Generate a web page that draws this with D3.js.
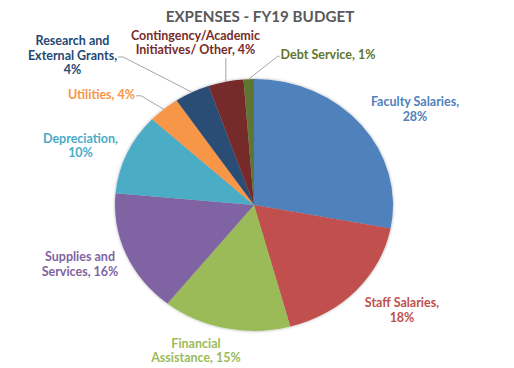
<!DOCTYPE html>
<html>
<head>
<meta charset="utf-8">
<script src="https://cdn.jsdelivr.net/npm/d3@7"></script>
<style>
  html, body { margin: 0; padding: 0; background: #fff; }
  svg { display: block; }
  text { font-family: Lato, "Open Sans", sans-serif; font-weight: bold; }
</style>
</head>
<body>
<div id="chart"></div>
<script>
// ---- data ----
const title = "EXPENSES - FY19 BUDGET";
const categories = ["Faculty Salaries", "Staff Salaries", "Financial Assistance", "Supplies and Services",
  "Depreciation", "Utilities", "Research and External Grants", "Contingency/Academic Initiatives/ Other", "Debt Service"];
const values = [28.0, 17.8, 14.9, 15.8, 10.4, 3.7, 4.1, 4.1, 1.2];
const percentLabels = ["28%", "18%", "15%", "16%", "10%", "4%", "4%", "4%", "1%"];
const labelLines = [
  ["Faculty Salaries,", "28%"],
  ["Staff Salaries,", "18%"],
  ["Financial", "Assistance, 15%"],
  ["Supplies and", "Services, 16%"],
  ["Depreciation,", "10%"],
  ["Utilities, 4%"],
  ["Research and", "External Grants,", "4%"],
  ["Contingency/Academic", "Initiatives/ Other, 4%"],
  ["Debt Service, 1%"]
];
const sliceColors = ["#4F81BD", "#C0504D", "#9BBB59", "#8064A2", "#4BACC6", "#F79646", "#2C4D75", "#772C2A", "#5F7530"];
const labelColors = ["#4F81BD", "#C0504D", "#9BBB59", "#8064A2", "#4BACC6", "#F79646", "#254874", "#772C2A", "#5F7530"];

// ---- layout ----
const W = 514, H = 368;
const cx = 254, cy = 205, R = 139, ky = 0.906;
const labelPos = [
  [415, 106], [402, 307], [196, 347.5], [80, 261], [80.5, 142.5],
  [101.5, 98.5], [72.5, 45], [195.5, 39.5], [328, 59]
];
const lineH = 14.7;
const fontSize = 12.5;

const svg = d3.select("#chart").append("svg").attr("width", W).attr("height", H);

const defs = svg.append("defs");
const f = defs.append("filter").attr("id", "sh").attr("x", "-10%").attr("y", "-10%").attr("width", "120%").attr("height", "120%");
f.append("feDropShadow").attr("dx", 0).attr("dy", 0).attr("stdDeviation", 1.6)
  .attr("flood-color", "#000").attr("flood-opacity", 0.35);

svg.append("text").attr("x", 260).attr("y", 22).attr("text-anchor", "middle")
  .attr("fill", "#595959").style("font-size", "15.2px").text(title);

const pie = d3.pie().sort(null).value(d => d)(values);
const arc = d3.arc().innerRadius(0).outerRadius(R);

const g = svg.append("g").attr("transform", `translate(${cx},${cy}) scale(1,${ky})`).attr("filter", "url(#sh)");
g.selectAll("path").data(pie).join("path")
  .attr("d", arc)
  .attr("fill", (d, i) => sliceColors[i]);

function edgePoint(d) {
  const a = (d.startAngle + d.endAngle) / 2;
  return [cx + R * Math.sin(a), cy - R * Math.cos(a) * ky];
}

const labels = svg.append("g");
const texts = [];
labelLines.forEach((lines, i) => {
  const t = labels.append("text")
    .attr("text-anchor", "middle")
    .attr("fill", labelColors[i])
    .style("font-size", fontSize + "px");
  lines.forEach((ln, j) => {
    t.append("tspan").attr("x", labelPos[i][0]).attr("y", labelPos[i][1] + j * lineH).text(ln);
  });
  texts.push(t);
});

// leader lines for small slices
const leaders = svg.append("g").attr("fill", "none").attr("stroke", "#A6A6A6").attr("stroke-width", 1);
function lineBox(i, j) { return texts[i].selectAll("tspan").nodes()[j].getBBox(); }
// Utilities
{
  const b = lineBox(5, 0); const p = edgePoint(pie[5]);
  const y = b.y + b.height * 0.62;
  leaders.append("path").attr("d", d3.line()([[b.x + b.width + 1, y], [b.x + b.width + 6, y], p]));
}
// Research
{
  const b = lineBox(6, 1); const p = edgePoint(pie[6]);
  const y = b.y + b.height * 0.62;
  leaders.append("path").attr("d", d3.line()([[b.x + b.width + 1, y], [b.x + b.width + 6, y], p]));
}
// Contingency
{
  const b = lineBox(7, 1); const p = edgePoint(pie[7]);
  leaders.append("path").attr("d", d3.line()([[p[0], b.y + b.height + 1], p]));
}
// Debt
{
  const b = lineBox(8, 0); const p = edgePoint(pie[8]);
  const y = b.y + b.height * 0.62;
  leaders.append("path").attr("d", d3.line()([[b.x - 1, y], [b.x - 3, y], p]));
}
</script>
</body>
</html>
